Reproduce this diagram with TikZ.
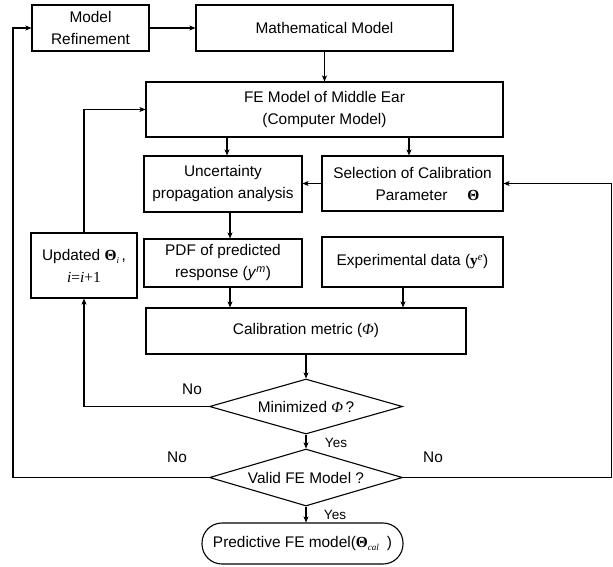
\documentclass[tikz,border=0pt]{standalone}
\usepackage{fontspec}
\setmainfont{Liberation Sans}
\newfontfamily\tms{Liberation Serif}
\usetikzlibrary{shapes.geometric,arrows.meta}
\newcommand{\bTh}{{\tms\bfseries Θ}}
\newcommand{\iPhi}{{\tms\itshape Φ}}
\newcommand{\lowsub}[1]{\raisebox{-3.5pt}{\fontsize{9}{9}\selectfont\tms\itshape #1}}
\begin{document}
\begin{tikzpicture}[x=1pt,y=-1pt,
  every node/.style={font=\fontsize{15.4}{22}\selectfont, inner sep=0pt},
  box/.style={draw, line width=1.1pt, rectangle, align=center},
  dec/.style={draw, line width=1.1pt, diamond, align=center, aspect=3.5},
  term/.style={draw, line width=1.1pt, rectangle, rounded corners=20pt, align=center},
  lbl/.style={font=\fontsize{15.4}{18}\selectfont},
  ylbl/.style={font=\fontsize{13.5}{15}\selectfont},
  arr/.style={line width=1.1pt, -{Stealth[length=6pt,width=5pt,inset=1.5pt]}},
  ln/.style={line width=1.1pt}]
\useasboundingbox (0,0) rectangle (613,566);

\node[box, minimum width=117pt, minimum height=46pt] (mr) at (90.5,28) {Model\\Refinement};
\node[box, minimum width=257pt, minimum height=46pt] (mm) at (324.5,28) {Mathematical Model};
\node[box, minimum width=357pt, minimum height=55pt] (fe) at (324.5,109.5) {FE Model of Middle Ear\\(Computer Model)};
\node[box, minimum width=158pt, minimum height=56pt] (ua) at (223,184) {Uncertainty\\propagation analysis};
\node[box, minimum width=181pt, minimum height=55pt] (sel) at (412.5,183.5) {Selection of Calibration\\\hspace*{30pt}Parameter\hspace{20pt}\bTh};
\node[box, minimum width=106pt, minimum height=65pt] (upd) at (84,265.5) {Updated \bTh\lowsub{i}\,,\\{\tms\itshape i}{\tms =}{\tms\itshape i}{\tms +1}};
\node[box, minimum width=158pt, minimum height=48pt] (pdf) at (223,263) {PDF of predicted\\response (\textit{y}\textsuperscript{\textit{m}})};
\node[box, minimum width=181pt, minimum height=50pt] (exp) at (412.5,262) {Experimental data ({\tms\bfseries y}\textsuperscript{\tms\itshape e})};
\node[box, minimum width=320pt, minimum height=46pt] (cal) at (306,331) {Calibration metric (\iPhi)};
\node[dec, minimum width=193pt, minimum height=55pt] (minz) at (306,406.5) {Minimized \iPhi\,?};
\node[dec, minimum width=193pt, minimum height=57pt] (valid) at (306,477.5) {Valid FE Model ?};
\node[term, minimum width=201pt, minimum height=41pt] (pred) at (302.5,543.5) {Predictive FE model(\bTh\lowsub{cal}\hspace{8pt})};

\node[lbl] (no1) at (192,389) {No};
\node[ylbl] (yes1) at (336,443) {Yes};
\node[lbl] (no2) at (177,457) {No};
\node[lbl] (no3) at (433,457) {No};
\node[ylbl] (yes2) at (335,515) {Yes};

\coordinate (lc) at (13,0);
\coordinate (rc) at (611.5,0);

\draw[arr] (mr) -- (mm);
\draw[arr] (mm.south) -- (fe.north);
\draw[arr] ([xshift=4pt]ua.north |- fe.south) -- ([xshift=4pt]ua.north);
\draw[arr] ([xshift=-3.5pt]sel.north |- fe.south) -- ([xshift=-3.5pt]sel.north);
\draw[arr] (sel.west) -- (ua.east |- sel.west);
\draw[arr] ([xshift=7pt]ua.south) -- ([xshift=7pt]pdf.north);
\draw[arr] ([xshift=7pt]pdf.south) -- ([xshift=7pt]pdf.south |- cal.north);
\draw[arr] ([xshift=-9.5pt]exp.south) -- ([xshift=-9.5pt]exp.south |- cal.north);
\draw[arr] (cal.south) -- (minz.north);
\draw[arr] (minz.south) -- (valid.north);
\draw[arr] (valid.south) -- (valid.south |- pred.north);
\draw[arr] (minz.west) -| (upd.south);
\draw[arr] (upd.north) |- (fe.west);
\draw[arr] (valid.west) -| (lc |- mr.west) -- (mr.west);
\draw[arr] (valid.east) -| (rc |- sel.east) -- (sel.east);
\end{tikzpicture}
\end{document}
